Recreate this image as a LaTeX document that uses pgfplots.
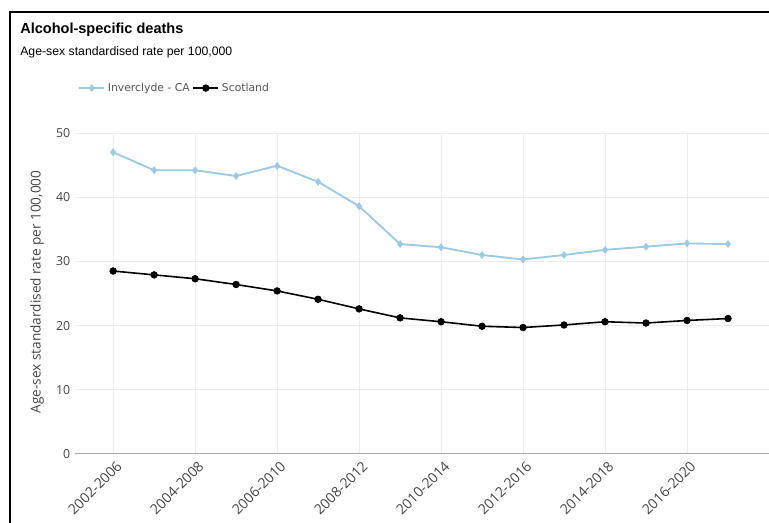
\documentclass[border=0pt]{standalone}
\usepackage{pgfplots}
\pgfplotsset{compat=1.18}
\usepackage{fontspec}
\setmainfont{Open Sans}
\newfontfamily\arialfont{Liberation Sans}
\newfontfamily\verdanafont{DejaVu Sans}

\definecolor{invblue}{RGB}{158,202,225}
\definecolor{ticktext}{RGB}{68,68,68}
\definecolor{gridc}{RGB}{236,236,236}
\definecolor{zeroline}{RGB}{170,170,170}
\definecolor{legtext}{RGB}{85,85,85}

\begin{document}
\begin{tikzpicture}[x=0.75pt,y=-0.75pt]
\useasboundingbox (0,0) rectangle (769,523);
\draw[line width=1.5pt] (10,523) -- (10,12.5) -- (769,12.5);
\node[anchor=base west, inner sep=0pt, font=\arialfont\bfseries\fontsize{10.9}{12}\selectfont] at (20,34) {Alcohol-specific deaths};
\node[anchor=base west, inner sep=0pt, font=\arialfont\fontsize{9.2}{11}\selectfont] at (20,56) {Age-sex standardised rate per 100,000};

\begin{axis}[
  at={(56.25pt,-340.5pt)}, anchor=south west,
  scale only axis,
  width=520.5pt, height=240.75pt,
  xmin=-0.93, xmax=16.0,
  ymin=0, ymax=50,
  axis x line*=bottom,
  axis y line*=left,
  x axis line style={draw=zeroline, line width=0.75pt},
  y axis line style={draw=none},
  xtick={0,2,...,14},
  xticklabels={2002-2006,2004-2008,2006-2010,2008-2012,2010-2014,2012-2016,2014-2018,2016-2020},
  ytick={0,10,...,50},
  major tick length=0pt,
  tick style={draw=none},
  xmajorgrids, ymajorgrids,
  grid style={draw=gridc, line width=0.75pt},
  /pgf/number format/assume math mode=true,
  tick label style={font=\fontsize{9.3}{11}\selectfont, text=ticktext},
  x tick label style={rotate=45, anchor=north east, font=\fontsize{10.5}{12}\selectfont, xshift=1.5pt, yshift=-1pt},
  ylabel={Age-sex standardised rate per 100,000},
  ylabel style={at={(axis description cs:-0.0548,0.505)}, anchor=center, font=\fontsize{10.2}{12}\selectfont, text=ticktext},
  legend style={at={(axis description cs:0.004,1.14)}, anchor=west, draw=none, fill=none,
    font=\verdanafont\fontsize{8.1}{10}\selectfont, text=legtext, inner sep=0pt,
    /tikz/every odd column/.append style={column sep=0pt}},
  legend columns=2,
  legend image code/.code={
    \draw[mark repeat=2,mark phase=2] plot coordinates {(0pt,0pt) (9.5pt,0pt) (19pt,0pt)};
  },
]
\addplot[invblue, line width=1.4pt, mark=diamond*, mark size=2.6pt, mark options={fill=invblue, draw=invblue, line width=0.5pt}]
coordinates {
(0,47.0) (1,44.2) (2,44.2) (3,43.3) (4,44.9) (5,42.4) (6,38.6) (7,32.7)
(8,32.2) (9,31.0) (10,30.3) (11,31.0) (12,31.8) (13,32.3) (14,32.8) (15,32.7)
};
\addlegendentry{Inverclyde - CA}
\addplot[black, line width=1.2pt, mark=*, mark size=2.5pt, mark options={fill=black, line width=0.5pt}]
coordinates {
(0,28.5) (1,27.9) (2,27.3) (3,26.4) (4,25.4) (5,24.1) (6,22.6) (7,21.2)
(8,20.6) (9,19.9) (10,19.7) (11,20.1) (12,20.6) (13,20.4) (14,20.8) (15,21.1)
};
\addlegendentry{Scotland}
\end{axis}
\end{tikzpicture}
\end{document}
